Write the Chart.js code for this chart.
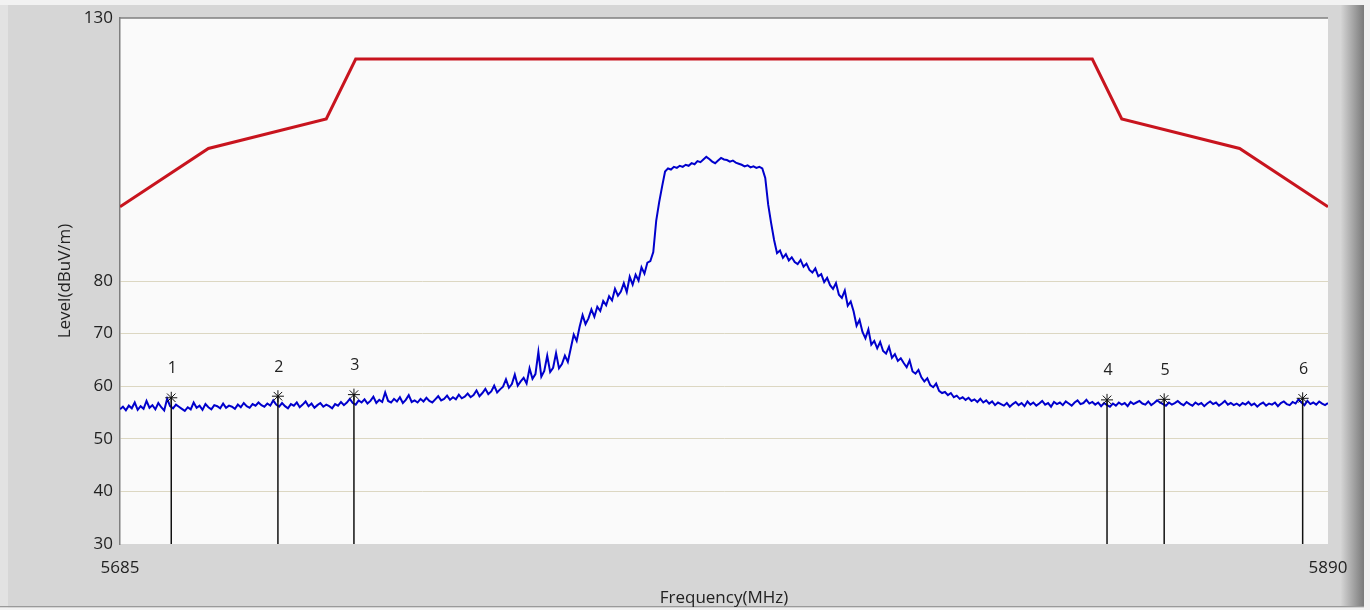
<!DOCTYPE html>
<html>
<head>
<meta charset="utf-8">
<title>Spectrum</title>
<script src="https://cdn.jsdelivr.net/npm/chart.js@4/dist/chart.umd.min.js"></script>
<style>
  body { margin: 0; background: #d6d6d6; }
  canvas { display: block; }
</style>
</head>
<body>
<canvas id="myChart" width="1370" height="610"></canvas>
<script>
// sweep: 5685..5890 MHz, 0.5 MHz per point
var traceStart = 5685;
var traceStep = 0.5;
var traceLevels = [
  55.6, 56.1, 55.4, 56.3, 55.8, 56.9, 55.5, 56.2, 55.7, 57.2,
  55.9, 56.4, 55.6, 56.8, 56.0, 55.4, 57.6, 56.2, 55.8, 56.5,
  56.1, 55.7, 55.3, 56.0, 55.6, 56.9, 55.9, 56.3, 55.5, 56.6,
  56.0, 55.6, 56.4, 56.2, 55.8, 56.7, 55.9, 56.3, 56.1, 55.7,
  56.5, 56.0, 56.8, 56.2, 55.9, 56.6, 56.3, 56.9, 56.4, 56.1,
  56.7, 56.3, 57.3, 56.5, 56.1, 56.8, 56.2, 55.8, 56.6, 56.3,
  56.9, 56.0, 56.5, 57.1, 56.2, 56.7, 55.9, 56.4, 56.8, 56.1,
  56.5, 56.2, 55.8, 56.6, 56.3, 57.0, 56.4, 56.9, 57.6, 56.8,
  56.5, 57.3, 56.9, 57.5, 56.7, 57.2, 58.0, 56.8, 57.4, 57.0,
  58.8, 57.2, 56.9, 57.6, 57.1, 57.9, 56.8, 57.4, 58.3, 57.0,
  57.3, 56.9, 57.6, 57.1, 57.8, 57.2, 56.9, 57.5, 58.1, 57.3,
  57.6, 58.2, 57.4, 57.9, 57.5, 58.4, 57.7, 58.0, 58.6, 57.9,
  58.3, 59.2, 58.1, 58.7, 59.5, 58.5, 59.0, 60.1, 58.8, 59.4,
  59.9, 61.3, 59.7, 60.4, 62.2, 60.1, 60.9, 61.6, 60.5, 63.4,
  61.4, 62.3, 66.5, 61.8, 62.9, 65.8, 62.7, 63.5, 66.3, 63.4,
  64.2, 65.8, 64.6, 67.2, 69.8, 68.6, 71.3, 73.5, 71.8, 72.9,
  74.6, 73.2, 75.1, 74.3, 76.2, 75.4, 77.1, 76.3, 78.5, 77.2,
  78.0, 79.6, 77.9, 80.8, 79.3, 81.2, 80.1, 82.6, 81.4, 83.5,
  83.8, 85.5, 91.5, 95.0, 98.0, 100.8, 101.4, 101.2, 101.7, 101.5,
  101.9, 101.7, 102.1, 101.9, 102.4, 102.2, 102.8, 102.6, 103.1, 103.6,
  103.2, 102.7, 102.4, 102.9, 103.4, 103.1, 103.0, 102.7, 102.9, 102.5,
  102.3, 102.1, 101.8, 102.0, 101.6, 101.8, 101.5, 101.7, 101.4, 99.6,
  94.5, 91.0, 87.8, 85.3, 85.8, 84.4, 85.1, 83.9, 84.5, 83.6,
  83.2, 84.0, 82.7, 83.3, 82.1, 81.6, 82.4, 80.9, 81.3, 79.8,
  80.6, 79.2, 78.5, 79.6, 77.4, 76.8, 78.2, 75.3, 76.1, 74.2,
  71.5, 72.6, 70.3, 69.1, 70.8, 67.9, 68.6, 67.2, 68.4, 66.7,
  66.2, 67.5, 65.4, 66.1, 64.8, 65.3, 64.4, 63.6, 64.9, 62.8,
  62.4, 63.1, 61.7, 60.9, 61.5, 60.2, 59.8, 60.5, 59.1, 58.7,
  58.9, 58.3, 58.7, 57.9, 58.2, 57.6, 57.9, 57.4, 57.8, 57.2,
  57.5, 57.0, 57.6, 56.9, 57.3, 56.7, 57.1, 56.4, 56.9, 56.6,
  56.3, 56.8, 56.1, 56.6, 57.0, 56.4, 56.8, 56.2, 57.1, 56.5,
  56.9, 56.3, 56.7, 57.2, 56.5, 56.8, 56.1, 57.0, 56.6, 56.9,
  56.4, 57.1, 56.7, 56.3, 56.9, 57.3, 56.6, 56.8, 57.4, 56.7,
  57.0, 56.5, 56.9, 56.2, 56.8, 56.4, 56.1, 56.7, 56.3, 56.9,
  56.5, 56.8, 56.2, 57.0, 56.6, 56.9, 57.2, 56.7, 56.5, 57.1,
  56.4, 56.8, 57.3, 56.9, 56.6, 56.3, 56.9, 56.5, 56.8, 57.2,
  56.7, 56.4, 57.0, 56.6, 56.3, 56.9, 56.5, 56.8, 56.2, 56.7,
  57.1, 56.6, 56.9, 56.3, 56.7, 57.2, 56.5, 56.8, 56.4, 56.7,
  56.3, 56.8, 56.5, 57.0, 56.4, 56.7, 56.1, 56.6, 56.9, 56.3,
  56.7, 56.5, 56.9, 56.2, 56.8, 57.1, 56.6, 56.4, 57.0, 56.7,
  57.5, 56.9, 56.4, 57.2, 56.6, 56.9, 56.5, 57.1, 56.7, 56.4,
  56.8
];

// limit line
var limitFreqs = [5685, 5700, 5720, 5725, 5850, 5855, 5875, 5890];
var limitLevels = [94.1, 105.2, 110.8, 122.2, 122.2, 110.8, 105.2, 94.1];

// markers
var markerLabels = ['1', '2', '3', '4', '5', '6'];
var markerFreqs = [5693.7, 5711.8, 5724.7, 5852.5, 5862.2, 5885.7];
var markerLevels = [57.8, 58.1, 58.4, 57.4, 57.5, 57.7];

var xTicks = [5685, 5890];
var yTicks = [30, 40, 50, 60, 70, 80, 130];

var fontFamily = '"Open Sans", "DejaVu Sans", sans-serif';

var tracePoints = traceLevels.map(function(v, i) {
    return { x: traceStart + i * traceStep, y: v };
});
var limitPoints = limitFreqs.map(function(f, i) {
    return { x: f, y: limitLevels[i] };
});

var datasets = [];
markerFreqs.forEach(function(f, i) {
    datasets.push({
        data: [{ x: f, y: 30 }, { x: f, y: markerLevels[i] }],
        borderColor: '#111',
        borderWidth: 1.5,
        pointStyle: 'star',
        pointRadius: [0, 6],
        pointBorderColor: '#111',
        pointBorderWidth: 1,
        fill: false
    });
});
datasets.push({
    data: tracePoints,
    borderColor: '#0000cc',
    borderWidth: 2,
    pointRadius: 0,
    tension: 0,
    fill: false
});
datasets.push({
    data: limitPoints,
    borderColor: '#c8141e',
    borderWidth: 3,
    pointRadius: 0,
    tension: 0,
    fill: false
});

// window frame and plot background
var framePlugin = {
    id: 'frame',
    beforeDraw: function(chart) {
        var c = chart.ctx, a = chart.chartArea;
        var w = chart.width, h = chart.height;
        c.save();
        c.fillStyle = '#d6d6d6';
        c.fillRect(0, 0, w, h);
        c.fillStyle = '#f2f2f2';
        c.fillRect(0, 0, w, 5);
        c.fillStyle = '#e2e2e2';
        c.fillRect(0, 5, 8, h - 5);
        var g = c.createLinearGradient(1340, 0, 1364, 0);
        g.addColorStop(0, '#d8d8d8');
        g.addColorStop(1, '#7a7a7a');
        c.fillStyle = g;
        c.fillRect(1340, 5, 24, h - 8);
        c.fillStyle = '#f2f2f2';
        c.fillRect(1364, 0, 6, h);
        c.fillStyle = '#9a9a9a';
        c.fillRect(0, 606, 1364, 1.5);
        c.fillStyle = '#f2f2f2';
        c.fillRect(0, 607.5, w, 3);
        c.fillStyle = '#fafafa';
        c.fillRect(a.left, a.top, a.right - a.left, a.bottom - a.top);
        c.strokeStyle = '#7f7f7f';
        c.lineWidth = 1.5;
        c.beginPath();
        c.moveTo(a.left, a.top);
        c.lineTo(a.right, a.top);
        c.stroke();
        c.restore();
    },
    afterDatasetsDraw: function(chart) {
        var c = chart.ctx;
        var xs = chart.scales.x, ys = chart.scales.y;
        c.save();
        c.fillStyle = '#222';
        c.font = '16px ' + fontFamily;
        c.textAlign = 'center';
        c.textBaseline = 'middle';
        markerLabels.forEach(function(lbl, i) {
            var px = xs.getPixelForValue(markerFreqs[i]);
            var py = ys.getPixelForValue(markerLevels[i]);
            c.fillText(lbl, px + 1, py - 29);
        });
        c.restore();
    }
};

var ctx = document.getElementById('myChart').getContext('2d');
var myChart = new Chart(ctx, {
    type: 'line',
    data: { datasets: datasets },
    options: {
        responsive: false,
        animation: false,
        events: [],
        layout: { padding: { left: 0, right: 42, top: 18, bottom: 0 } },
        plugins: {
            legend: { display: false },
            tooltip: { enabled: false }
        },
        scales: {
            x: {
                type: 'linear',
                min: 5685,
                max: 5890,
                afterBuildTicks: function(s) {
                    s.ticks = xTicks.map(function(v) { return { value: v }; });
                },
                afterFit: function(s) { s.height = 66; },
                grid: { display: false, drawTicks: false },
                border: { display: false },
                ticks: {
                    padding: 14,
                    color: '#222',
                    font: { family: fontFamily, size: 17 },
                    maxRotation: 0,
                    callback: function(v) { return String(v); }
                },
                title: {
                    display: true,
                    text: 'Frequency(MHz)',
                    color: '#222',
                    font: { family: fontFamily, size: 17 },
                    padding: { top: 0, bottom: 2 }
                }
            },
            y: {
                min: 30,
                max: 130,
                afterBuildTicks: function(s) {
                    s.ticks = yTicks.map(function(v) { return { value: v }; });
                },
                afterFit: function(s) { s.width = 120; },
                grid: {
                    drawTicks: false,
                    color: function(c) {
                        var v = c.tick ? c.tick.value : 0;
                        return (v > 30 && v < 130) ? '#dcd7c2' : 'rgba(0,0,0,0)';
                    },
                    lineWidth: 1
                },
                border: { display: true, color: '#7f7f7f', width: 1.5 },
                ticks: {
                    padding: 7,
                    color: '#222',
                    font: { family: fontFamily, size: 17 }
                },
                title: {
                    display: true,
                    text: 'Level(dBuV/m)',
                    color: '#222',
                    font: { family: fontFamily, size: 17 },
                    padding: { top: 55, bottom: 0 }
                }
            }
        }
    },
    plugins: [framePlugin]
});
</script>
</body>
</html>
